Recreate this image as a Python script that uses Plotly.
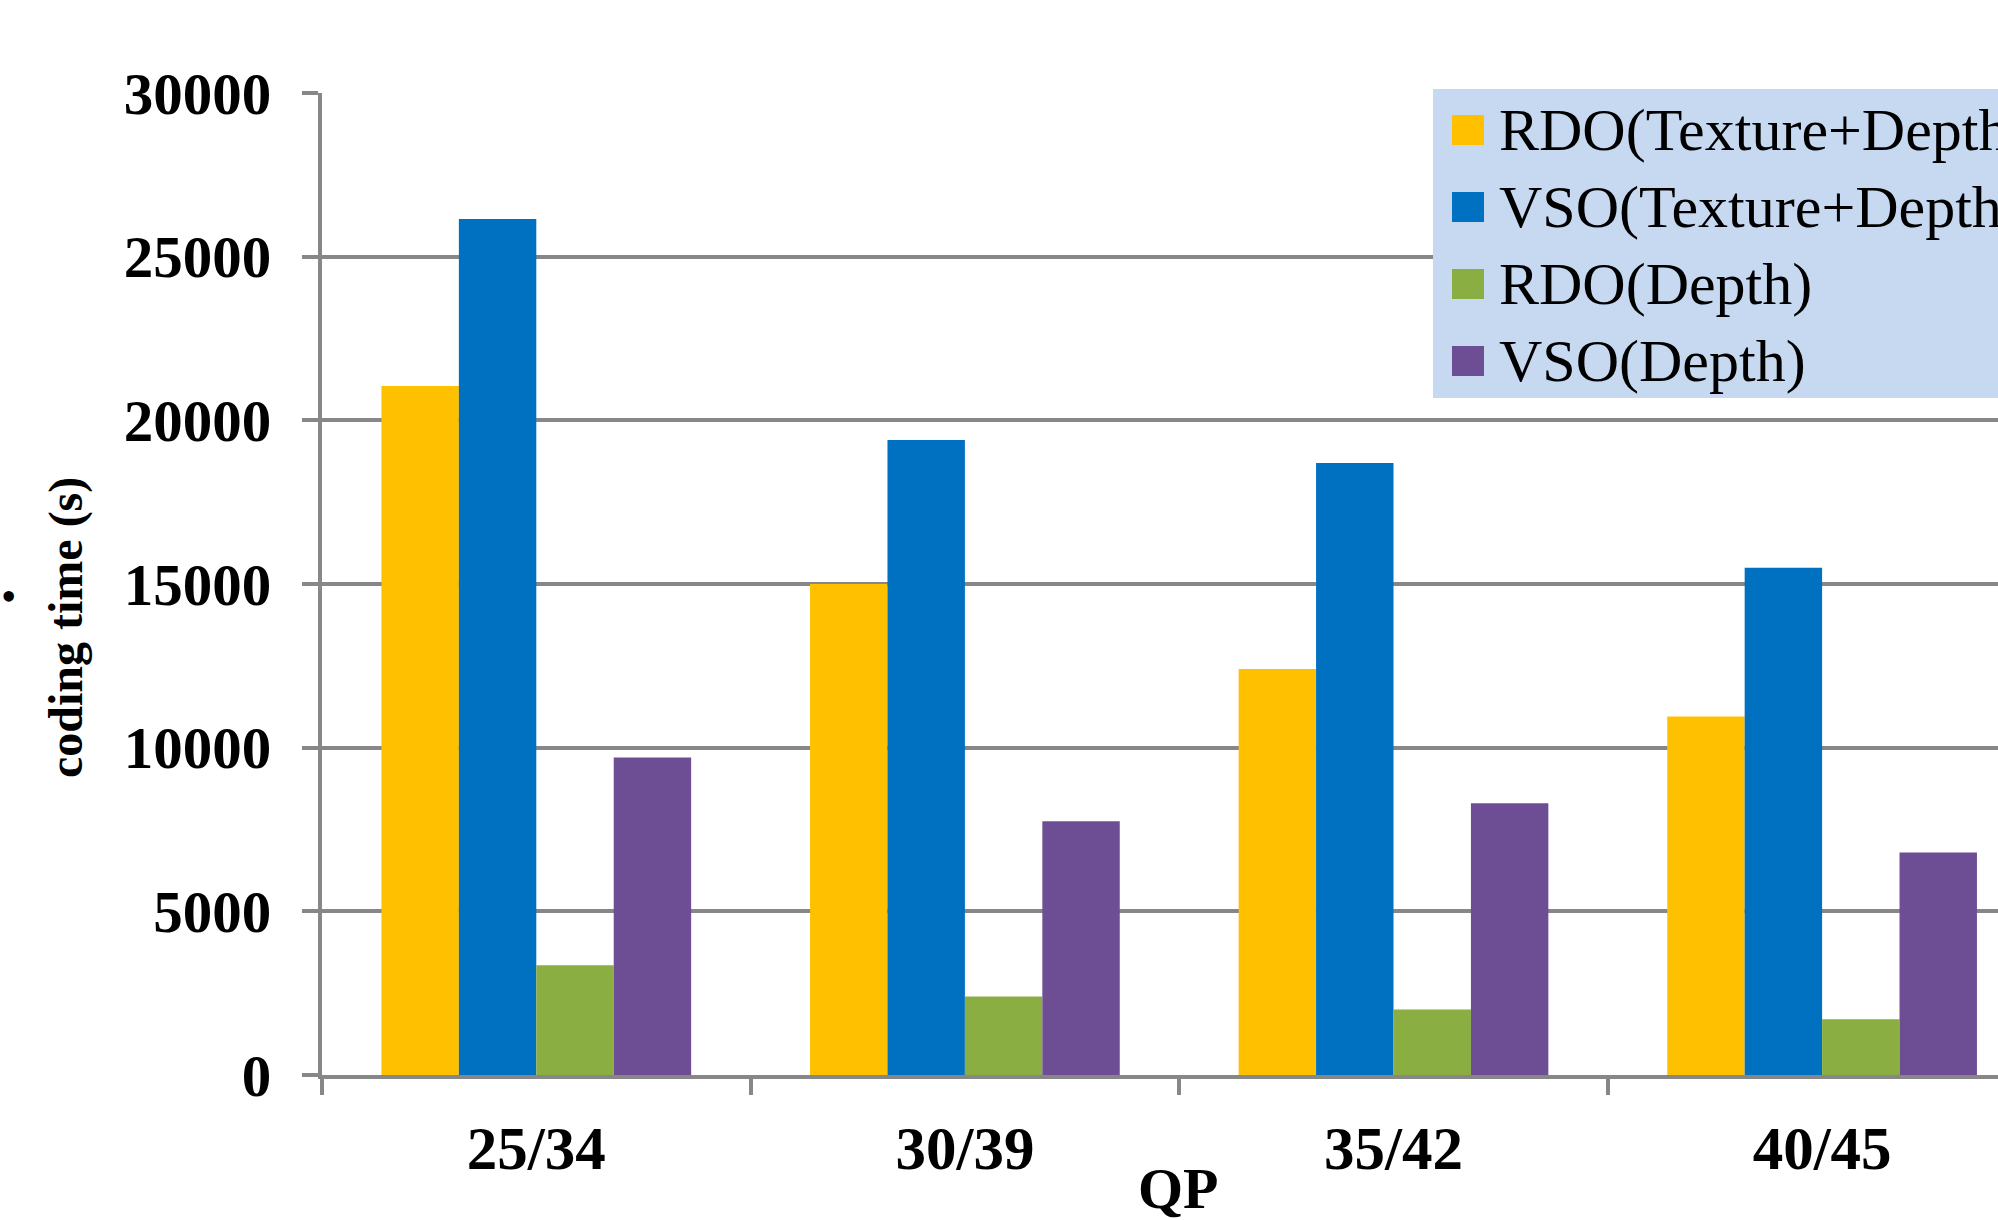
import plotly.graph_objects as go

# ---- data ----
categories = ["25/34", "30/39", "35/42", "40/45"]
series_names = ["RDO(Texture+Depth)", "VSO(Texture+Depth)", "RDO(Depth)", "VSO(Depth)"]
rdo_tex_depth = [21050, 15000, 12400, 10950]
vso_tex_depth = [26150, 19400, 18700, 15500]
rdo_depth = [3350, 2400, 2000, 1700]
vso_depth = [9700, 7750, 8300, 6800]
y_ticks = [0, 5000, 10000, 15000, 20000, 25000, 30000]

series_values = [rdo_tex_depth, vso_tex_depth, rdo_depth, vso_depth]
colors = ["#FFC000", "#0070C0", "#8AAE42", "#6D4E95"]

W, H = 1998, 1220
L, R, T, B = 322, 0, 93, 145
PW, PH = W - L - R, H - T - B


def px_x(x):
    return (x - L) / PW


def px_y(y):
    return (H - B - y) / PH


GRAY = "#878787"
SERIF = "Liberation Serif, Times New Roman, serif"

fig = go.Figure()
for name, vals, col in zip(series_names, series_values, colors):
    fig.add_trace(go.Bar(x=categories, y=vals, name=name,
                         marker=dict(color=col, line=dict(width=0)),
                         showlegend=False))

fig.update_layout(
    width=W, height=H,
    margin=dict(l=L, r=R, t=T, b=B, pad=0),
    paper_bgcolor="white", plot_bgcolor="white",
    barmode="group", bargap=0.2774, bargroupgap=0,
    font=dict(family=SERIF, color="black"),
    xaxis=dict(type="category", range=[-0.5, -0.5 + PW / 428.6],
               showline=True, linecolor=GRAY, linewidth=4,
               ticks="outside", ticklen=16, tickwidth=4, tickcolor=GRAY,
               tickson="boundaries", showgrid=False,
               tickfont=dict(family=SERIF, size=61, color="black", weight="bold"),
               ticklabelstandoff=17),
    yaxis=dict(range=[0, 30000], tickvals=y_ticks,
               ticktext=[str(v) for v in y_ticks],
               showline=True, linecolor=GRAY, linewidth=4,
               ticks="outside", ticklen=16, tickwidth=4, tickcolor=GRAY,
               showgrid=True, gridcolor=GRAY, gridwidth=4, zeroline=False,
               tickfont=dict(family=SERIF, size=59, color="black", weight="bold"),
               ticklabelstandoff=19),
)

# y title
fig.add_annotation(text="coding time (s)", xref="paper", yref="paper",
                   x=px_x(66), y=px_y(628), xanchor="center", yanchor="middle",
                   textangle=-90, showarrow=False,
                   font=dict(family=SERIF, size=48, color="black", weight="bold"))
fig.add_annotation(text="•", xref="paper", yref="paper",
                   x=px_x(8), y=px_y(596), xanchor="center", yanchor="middle",
                   showarrow=False,
                   font=dict(family=SERIF, size=44, color="black"))
# x title
fig.add_annotation(text="QP", xref="paper", yref="paper",
                   x=px_x(1178), y=px_y(1188), xanchor="center", yanchor="middle",
                   showarrow=False,
                   font=dict(family=SERIF, size=58, color="black", weight="bold"))

# manual legend
fig.add_shape(type="rect", xref="paper", yref="paper",
              x0=px_x(1433), x1=px_x(2010), y0=px_y(398), y1=px_y(89),
              fillcolor="#C6D9F1", line=dict(width=0), layer="above")
for i, (name, col) in enumerate(zip(series_names, colors)):
    cy = 130 + 77 * i
    fig.add_shape(type="rect", xref="paper", yref="paper",
                  x0=px_x(1452), x1=px_x(1484), y0=px_y(cy + 15), y1=px_y(cy - 15),
                  fillcolor=col, line=dict(width=0), layer="above")
    fig.add_annotation(text=name, xref="paper", yref="paper",
                       x=px_x(1497), y=px_y(cy), xanchor="left", yanchor="middle",
                       showarrow=False,
                       font=dict(family=SERIF, size=60, color="black"))

fig.write_html("out.html")
